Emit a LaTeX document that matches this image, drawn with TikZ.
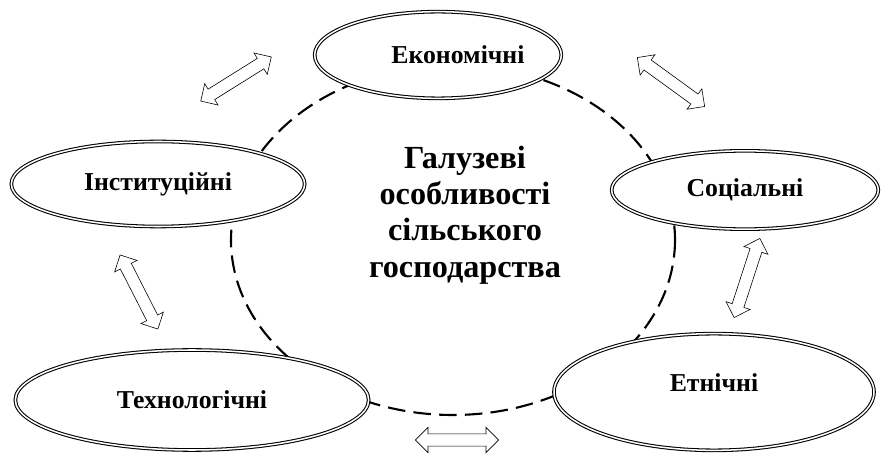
\documentclass[tikz,border=0pt]{standalone}
\usepackage{fontspec}
\setmainfont{Liberation Serif}
\usetikzlibrary{shapes.geometric,shapes.arrows,positioning}

\begin{document}
\begin{tikzpicture}[x=0.03cm,y=-0.03cm,
    area/.style={ellipse,draw,double,line width=0.9pt,double distance=1.3pt,
        fill=white,inner sep=0pt,font=\bfseries\fontsize{22}{24}\selectfont},
    link/.style={double arrow,draw,fill=white,line width=0.5pt,inner sep=5pt,
        double arrow head extend=5.5pt,double arrow tip angle=90,minimum height=71pt}]

                \useasboundingbox (0,0) rectangle (882,456);

                \draw[line width=1.8pt,dash pattern=on 15pt off 7pt] (453,240) ellipse [x radius=222,y radius=175];

                \node[align=center,font=\bfseries\fontsize{27.5}{31}\selectfont] (title) at (465,215)
                    {Галузеві\\особливості\\сільського\\господарства};

                \node[area,minimum width=7.4cm,minimum height=2.6cm] (eco) at (438,55) {\hspace*{34pt}Економічні};
                \node[area,minimum width=8.8cm,minimum height=2.55cm] (inst) at (158,184) {Інституційні};
                \node[area,minimum width=8cm,minimum height=2.35cm] (soc) at (745,190) {Соціальні};
                \node[area,minimum width=10.6cm,minimum height=3cm] (tech) at (192,400) {Технологічні};
                \node[area,minimum width=9.6cm,minimum height=3.5cm,text depth=16pt] (eth) at (714,392) {Етнічні};

                \node[link,rotate=32] (a1) at (236,79) {};
                \node[link,rotate=-36] (a2) at (671,82) {};
                \node[link,rotate=-63] (a3) at (139,292) {};
                \node[link,rotate=72] (a4) at (747,278) {};
                \node[link] (a5) at (457,440) {};

            \end{tikzpicture}
\end{document}
